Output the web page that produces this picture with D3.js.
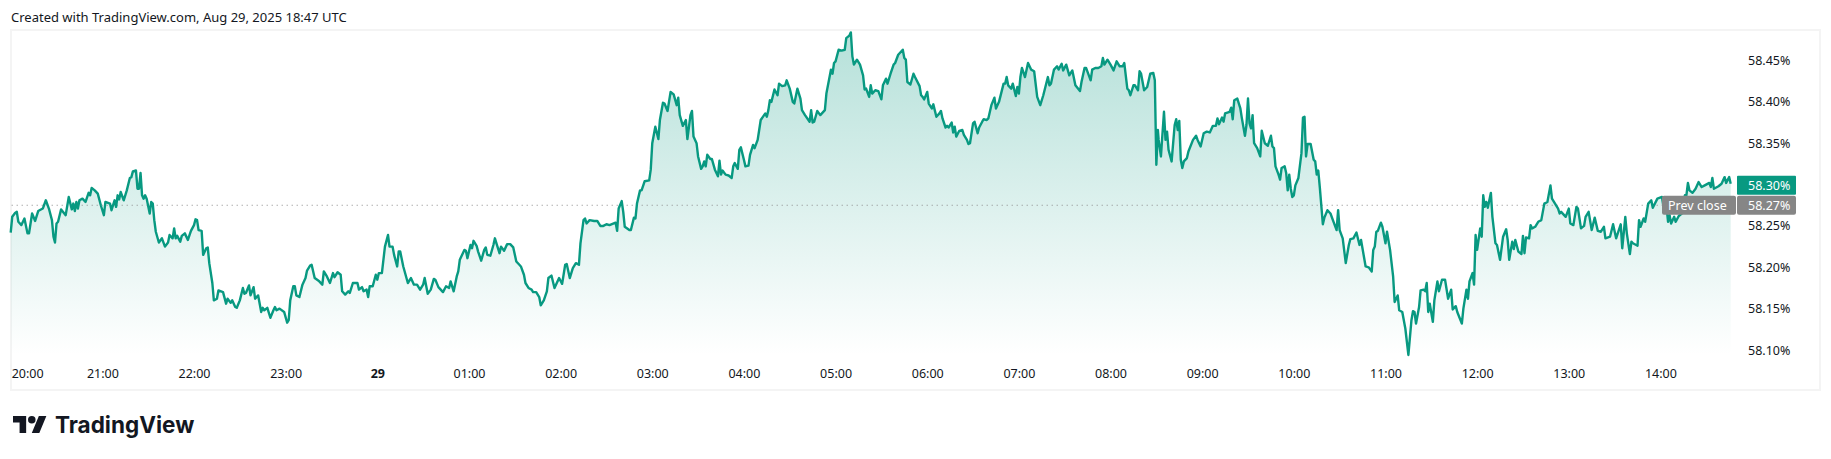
<!DOCTYPE html>
<html>
<head>
<meta charset="utf-8">
<script src="https://cdn.jsdelivr.net/npm/d3@7"></script>
<style>
  html, body { margin: 0; padding: 0; background: #fff; }
  svg { display: block; }
  text { font-family: "Noto Sans", sans-serif; fill: #131722; }
</style>
</head>
<body>
<svg id="chart" width="1831" height="459"></svg>
<script>
// minutes since 20:00 on Aug 28
const minutes = [
  0, 1, 3, 4, 5, 7, 9, 11, 12, 14,
  16, 18, 21, 23, 25, 27, 28, 29, 30, 31,
  33, 36, 38, 40, 41, 42, 43, 44, 45, 47,
  49, 51, 52, 53, 55, 57, 59, 61, 62, 65,
  66, 68, 69, 70, 71, 72, 74, 76, 78, 79,
  80, 82, 83, 84, 85, 86, 87, 88, 89, 91,
  92, 93, 94, 95, 97, 99, 101, 103, 104, 106,
  107, 108, 109, 111, 112, 114, 116, 118, 120, 121,
  122, 123, 125, 126, 128, 129, 130, 132, 133, 135,
  136, 139, 141, 142, 144, 145, 147, 148, 150, 152,
  153, 154, 156, 157, 159, 160, 162, 164, 165, 166,
  168, 170, 172, 173, 174, 176, 179, 181, 182, 183,
  185, 186, 187, 189, 191, 193, 194, 196, 197, 199,
  202, 204, 205, 207, 209, 211, 212, 214, 216, 217,
  219, 221, 222, 224, 227, 228, 230, 231, 233, 234,
  235, 237, 239, 240, 241, 243, 245, 247, 248, 250,
  251, 253, 254, 255, 257, 260, 262, 264, 266, 268,
  270, 271, 273, 275, 277, 278, 280, 283, 285, 287,
  288, 290, 292, 293, 294, 295, 297, 298, 299, 301,
  302, 303, 305, 306, 308, 310, 311, 312, 314, 316,
  317, 318, 320, 321, 323, 325, 327, 329, 331, 333,
  334, 336, 337, 339, 341, 342, 344, 346, 347, 349,
  351, 352, 354, 356, 359, 361, 363, 364, 366, 368,
  370, 372, 373, 375, 376, 377, 379, 382, 384, 386,
  388, 390, 392, 396, 397, 398, 400, 401, 402, 405,
  406, 408, 409, 410, 412, 413, 415, 418, 419, 420,
  422, 424, 425, 427, 428, 430, 432, 434, 436, 437,
  438, 440, 442, 443, 445, 446, 447, 449, 450, 452,
  453, 454, 455, 456, 458, 459, 461, 462, 463, 464,
  465, 466, 468, 470, 472, 473, 474, 476, 477, 478,
  480, 481, 483, 484, 486, 487, 489, 490, 491, 494,
  495, 496, 497, 498, 500, 502, 503, 505, 507, 508,
  510, 512, 513, 515, 517, 518, 520, 523, 524, 525,
  526, 528, 530, 533, 534, 537, 538, 539, 540, 542,
  544, 546, 547, 549, 550, 551, 552, 554, 556, 558,
  559, 560, 562, 563, 564, 566, 568, 570, 571, 573,
  574, 576, 578, 579, 581, 584, 585, 586, 587, 589,
  591, 592, 595, 596, 597, 598, 600, 601, 603, 604,
  606, 608, 609, 610, 612, 613, 614, 616, 617, 618,
  619, 621, 623, 624, 626, 627, 628, 630, 631, 633,
  634, 636, 637, 639, 640, 642, 644, 645, 647, 650,
  651, 652, 653, 655, 656, 658, 659, 660, 661, 662,
  664, 666, 668, 670, 672, 674, 676, 679, 680, 681,
  683, 685, 686, 688, 689, 691, 693, 695, 697, 700,
  701, 703, 704, 707, 708, 710, 712, 714, 715, 716,
  718, 720, 722, 724, 726, 728, 729, 731, 732, 733,
  735, 736, 738, 739, 740, 742, 744, 746, 748, 749,
  750, 751, 751.5, 753, 755, 756, 757, 758, 760, 762,
  763, 764, 765, 766, 767, 768, 770, 771, 774, 776,
  777, 779, 781, 783, 785, 787, 789, 790, 791, 793,
  794, 795, 798, 799, 800, 801, 803, 805, 806, 808,
  809, 810, 811, 812, 813, 814, 816, 818, 819, 821,
  823, 825, 826, 827, 828, 830, 831, 832, 834, 835,
  836, 837, 838, 839, 840, 841, 843, 845, 846, 847,
  848, 849, 851, 853, 854, 855, 856, 857, 859, 860,
  862, 864, 866, 868, 869, 870, 872, 874, 876, 877,
  879, 881, 883, 884, 887, 889, 891, 892, 893, 894,
  895, 897, 898, 900, 901, 903, 905, 906, 908, 909,
  911, 913, 915, 917, 918, 919, 920, 922, 923, 925,
  926, 927, 928, 929, 931, 932, 934, 935, 937, 939,
  941, 943, 944, 946, 947, 950, 951, 953, 954, 955,
  957, 958, 959, 960, 962, 963, 964, 965, 966, 967,
  969, 970, 972, 973, 975, 977, 979, 980, 981, 983,
  984, 985, 987, 989, 990, 991, 992, 994, 995, 996,
  998, 1000, 1002, 1004, 1006, 1008, 1009, 1011, 1013, 1014,
  1015, 1018, 1020, 1021, 1023, 1025, 1026, 1028, 1030, 1031,
  1033, 1035, 1037, 1039, 1041, 1043, 1044, 1047, 1049, 1051,
  1054, 1055, 1057, 1058, 1060, 1061, 1062, 1065, 1066, 1067,
  1069, 1070, 1072, 1074, 1075, 1078, 1081, 1082, 1084, 1085,
  1086, 1087, 1089, 1090, 1092, 1094, 1096, 1097, 1098, 1099,
  1101, 1103, 1105, 1107, 1109,
  1112, 1113, 1114, 1115, 1118, 1120, 1122, 1123, 1125, 1126,
];

// yield in percent at each of those minutes
const yields = [
  58.242, 58.261, 58.266, 58.267, 58.255, 58.251, 58.259, 58.241, 58.241, 58.265,
  58.256, 58.268, 58.271, 58.281, 58.271, 58.257, 58.237, 58.230, 58.253, 58.255,
  58.270, 58.263, 58.285, 58.270, 58.277, 58.268, 58.279, 58.271, 58.281, 58.283,
  58.279, 58.290, 58.287, 58.296, 58.293, 58.289, 58.275, 58.263, 58.279, 58.277,
  58.269, 58.281, 58.273, 58.287, 58.282, 58.291, 58.281, 58.293, 58.308, 58.309,
  58.316, 58.317, 58.295, 58.295, 58.314, 58.287, 58.283, 58.287, 58.283, 58.265,
  58.279, 58.277, 58.257, 58.243, 58.230, 58.235, 58.225, 58.230, 58.239, 58.235,
  58.247, 58.235, 58.238, 58.231, 58.238, 58.241, 58.233, 58.244, 58.251, 58.258,
  58.257, 58.245, 58.244, 58.215, 58.223, 58.224, 58.205, 58.181, 58.160, 58.162,
  58.172, 58.170, 58.156, 58.162, 58.157, 58.160, 58.152, 58.151, 58.160, 58.175,
  58.168, 58.169, 58.178, 58.166, 58.176, 58.162, 58.166, 58.146, 58.151, 58.148,
  58.151, 58.139, 58.148, 58.152, 58.148, 58.150, 58.146, 58.133, 58.136, 58.160,
  58.177, 58.177, 58.166, 58.164, 58.179, 58.187, 58.196, 58.202, 58.203, 58.187,
  58.183, 58.179, 58.195, 58.189, 58.181, 58.193, 58.188, 58.194, 58.191, 58.171,
  58.167, 58.171, 58.169, 58.181, 58.181, 58.173, 58.176, 58.171, 58.173, 58.164,
  58.177, 58.177, 58.191, 58.185, 58.193, 58.193, 58.225, 58.239, 58.225, 58.225,
  58.215, 58.201, 58.219, 58.219, 58.201, 58.181, 58.187, 58.179, 58.179, 58.173,
  58.179, 58.187, 58.168, 58.173, 58.186, 58.185, 58.176, 58.170, 58.177, 58.175,
  58.183, 58.171, 58.189, 58.195, 58.209, 58.213, 58.221, 58.220, 58.211, 58.227,
  58.223, 58.232, 58.226, 58.219, 58.208, 58.221, 58.224, 58.215, 58.214, 58.227,
  58.235, 58.229, 58.217, 58.225, 58.220, 58.228, 58.228, 58.224, 58.207, 58.203,
  58.201, 58.191, 58.181, 58.175, 58.173, 58.170, 58.170, 58.164, 58.154, 58.160,
  58.171, 58.187, 58.190, 58.175, 58.187, 58.180, 58.203, 58.204, 58.187, 58.199,
  58.205, 58.203, 58.229, 58.257, 58.259, 58.253, 58.257, 58.256, 58.256, 58.250,
  58.250, 58.252, 58.251, 58.254, 58.244, 58.271, 58.280, 58.267, 58.249, 58.245,
  58.245, 58.260, 58.259, 58.277, 58.293, 58.293, 58.304, 58.305, 58.318, 58.350,
  58.370, 58.355, 58.378, 58.399, 58.398, 58.389, 58.412, 58.409, 58.396, 58.405,
  58.384, 58.371, 58.378, 58.355, 58.384, 58.389, 58.358, 58.350, 58.334, 58.319,
  58.322, 58.328, 58.322, 58.336, 58.331, 58.331, 58.318, 58.314, 58.310, 58.329,
  58.312, 58.317, 58.312, 58.311, 58.308, 58.322, 58.326, 58.319, 58.342, 58.345,
  58.330, 58.322, 58.323, 58.336, 58.348, 58.344, 58.354, 58.366, 58.378, 58.386,
  58.382, 58.390, 58.402, 58.400, 58.415, 58.408, 58.422, 58.419, 58.420, 58.426,
  58.416, 58.400, 58.398, 58.416, 58.404, 58.390, 58.384, 58.376, 58.390, 58.375,
  58.376, 58.389, 58.384, 58.390, 58.410, 58.439, 58.434, 58.447, 58.449, 58.463,
  58.462, 58.463, 58.477, 58.480, 58.484, 58.455, 58.445, 58.451, 58.445, 58.432,
  58.415, 58.416, 58.406, 58.420, 58.410, 58.414, 58.413, 58.403, 58.420, 58.428,
  58.422, 58.434, 58.445, 58.447, 58.457, 58.463, 58.453, 58.451, 58.424, 58.421,
  58.434, 58.430, 58.419, 58.408, 58.406, 58.403, 58.412, 58.398, 58.392, 58.397,
  58.382, 58.386, 58.389, 58.380, 58.369, 58.371, 58.369, 58.375, 58.363, 58.370,
  58.358, 58.365, 58.366, 58.360, 58.354, 58.349, 58.350, 58.374, 58.376, 58.362,
  58.369, 58.376, 58.379, 58.378, 58.380, 58.396, 58.405, 58.392, 58.400, 58.422,
  58.422, 58.430, 58.420, 58.416, 58.422, 58.407, 58.418, 58.410, 58.430, 58.441,
  58.430, 58.447, 58.439, 58.437, 58.406, 58.396, 58.408, 58.430, 58.420, 58.422,
  58.439, 58.443, 58.439, 58.446, 58.438, 58.445, 58.432, 58.438, 58.420, 58.413,
  58.424, 58.441, 58.441, 58.426, 58.439, 58.441, 58.441, 58.443, 58.453, 58.445,
  58.451, 58.445, 58.438, 58.449, 58.443, 58.443, 58.447, 58.416, 58.414, 58.408,
  58.420, 58.420, 58.414, 58.437, 58.434, 58.414, 58.418, 58.434, 58.435, 58.426,
  58.324, 58.366, 58.354, 58.334, 58.388, 58.354, 58.364, 58.342, 58.328, 58.372,
  58.379, 58.366, 58.377, 58.330, 58.320, 58.328, 58.332, 58.340, 58.354, 58.359,
  58.354, 58.346, 58.362, 58.364, 58.363, 58.371, 58.371, 58.380, 58.373, 58.381,
  58.376, 58.386, 58.388, 58.393, 58.379, 58.402, 58.404, 58.392, 58.380, 58.359,
  58.372, 58.404, 58.374, 58.368, 58.384, 58.350, 58.344, 58.334, 58.365, 58.350,
  58.347, 58.359, 58.346, 58.344, 58.322, 58.312, 58.306, 58.320, 58.322, 58.314,
  58.293, 58.312, 58.295, 58.285, 58.287, 58.299, 58.308, 58.338, 58.381, 58.382,
  58.334, 58.349, 58.349, 58.330, 58.328, 58.312, 58.317, 58.297, 58.252, 58.260,
  58.269, 58.265, 58.255, 58.245, 58.269, 58.245, 58.235, 58.205, 58.227, 58.234,
  58.235, 58.242, 58.227, 58.233, 58.201, 58.200, 58.195, 58.221, 58.225, 58.243,
  58.244, 58.254, 58.249, 58.229, 58.243, 58.221, 58.189, 58.158, 58.166, 58.148,
  58.146, 58.126, 58.094, 58.136, 58.147, 58.146, 58.132, 58.152, 58.172, 58.173,
  58.171, 58.181, 58.146, 58.156, 58.134, 58.160, 58.183, 58.171, 58.185, 58.185,
  58.162, 58.173, 58.149, 58.153, 58.146, 58.132, 58.150, 58.173, 58.162, 58.183,
  58.193, 58.179, 58.239, 58.221, 58.247, 58.237, 58.287, 58.273, 58.279, 58.272,
  58.290, 58.261, 58.229, 58.227, 58.209, 58.237, 58.246, 58.233, 58.209, 58.231,
  58.222, 58.233, 58.219, 58.216, 58.238, 58.217, 58.236, 58.235, 58.251, 58.247,
  58.249, 58.255, 58.257, 58.277, 58.279, 58.299, 58.283, 58.277, 58.271, 58.265,
  58.267, 58.261, 58.271, 58.253, 58.251, 58.273, 58.271, 58.247, 58.250, 58.261,
  58.267, 58.245, 58.260, 58.244, 58.243, 58.249, 58.235, 58.237, 58.252, 58.235,
  58.252, 58.223, 58.261, 58.241, 58.216, 58.231, 58.229, 58.226, 58.257, 58.249,
  58.259, 58.255, 58.277, 58.281, 58.272, 58.283, 58.285, 58.273, 58.273, 58.255,
  58.263, 58.253, 58.261, 58.255, 58.262, 58.265, 58.287, 58.287, 58.302, 58.293,
  58.290, 58.295, 58.303, 58.297, 58.299,
  58.302, 58.297, 58.308, 58.295, 58.298, 58.301, 58.309, 58.302, 58.309, 58.301,
];

const hourTicks = [0, 60, 120, 180, 240, 300, 360, 420, 480, 540, 600, 660, 720, 780, 840, 900, 960, 1020, 1080];
const hourLabels = ['20:00', '21:00', '22:00', '23:00', '29', '01:00', '02:00', '03:00', '04:00', '05:00',
  '06:00', '07:00', '08:00', '09:00', '10:00', '11:00', '12:00', '13:00', '14:00'];
const yieldTicks = [58.10, 58.15, 58.20, 58.25, 58.35, 58.40, 58.45];
const prevClose = 58.275;
const prevCloseText = '58.27%';
const createdText = 'Created with TradingView.com, Aug 29, 2025 18:47 UTC';

const points = d3.zip(minutes, yields);
const lastValue = yields[yields.length - 1];
const GREEN = '#089981';
const GREY = '#868686';
const LABEL_FONT = '12.5px';

const svg = d3.select('#chart');

const x = d3.scaleLinear().domain([0, 1126]).range([10.7, 1730.7]);
const y = d3.scaleLinear().domain([58.10, 58.45]).range([350, 60.5]);

svg.append('text')
  .attr('x', 11)
  .attr('y', 22)
  .style('font-size', '13px')
  .text(createdText);

// frame round the chart
svg.append('rect')
  .attr('x', 11)
  .attr('y', 30)
  .attr('width', 1809)
  .attr('height', 360)
  .attr('fill', 'none')
  .attr('stroke', '#f4f4f4')
  .attr('stroke-width', 2);

const grad = svg.append('defs').append('linearGradient')
  .attr('id', 'fade')
  .attr('gradientUnits', 'userSpaceOnUse')
  .attr('x1', 0)
  .attr('x2', 0)
  .attr('y1', 30)
  .attr('y2', 355);
grad.append('stop').attr('offset', 0).attr('stop-color', GREEN).attr('stop-opacity', 0.3);
grad.append('stop').attr('offset', 1).attr('stop-color', GREEN).attr('stop-opacity', 0);

const area = d3.area()
  .x(d => x(d[0]))
  .y0(355)
  .y1(d => y(d[1]));

const line = d3.line()
  .x(d => x(d[0]))
  .y(d => y(d[1]));

svg.append('path')
  .datum(points)
  .attr('d', area)
  .attr('fill', 'url(#fade)');

// previous close, dotted across the pane
svg.append('line')
  .attr('x1', x(0) + 1)
  .attr('x2', 1663)
  .attr('y1', y(prevClose))
  .attr('y2', y(prevClose))
  .attr('stroke', '#8a8a8a')
  .attr('stroke-dasharray', '1 4');

svg.append('path')
  .datum(points)
  .attr('d', line)
  .attr('fill', 'none')
  .attr('stroke', GREEN)
  .attr('stroke-width', 2.4)
  .attr('stroke-linejoin', 'round');

// time axis
const xAxis = svg.append('g')
  .attr('transform', 'translate(0,366)')
  .call(d3.axisBottom(x).tickValues(hourTicks).tickSize(0).tickPadding(3)
    .tickFormat((d, i) => hourLabels[i]));
xAxis.select('.domain').remove();
xAxis.selectAll('text')
  .style('font-family', '"Noto Sans", sans-serif')
  .style('font-size', LABEL_FONT)
  .attr('fill', '#131722')
  .style('font-weight', (d, i) => (hourLabels[i] === '29' ? 'bold' : 'normal'));
// the first label is pushed right so it stays inside the frame
xAxis.select('.tick text').attr('text-anchor', 'start').attr('x', 0.5);

// price axis
const yAxis = svg.append('g')
  .attr('transform', 'translate(1748,0)')
  .call(d3.axisRight(y).tickValues(yieldTicks).tickSize(0).tickPadding(0)
    .tickFormat(d => `${d3.format('.2f')(d)}%`));
yAxis.select('.domain').remove();
yAxis.selectAll('text')
  .style('font-family', '"Noto Sans", sans-serif')
  .style('font-size', LABEL_FONT)
  .attr('fill', '#131722');

// last value badge
svg.append('rect')
  .attr('x', 1737)
  .attr('y', y(lastValue) - 8)
  .attr('width', 59)
  .attr('height', 19)
  .attr('rx', 1)
  .attr('fill', GREEN);
svg.append('text')
  .attr('x', 1748)
  .attr('y', y(lastValue) + 6)
  .style('font-size', LABEL_FONT)
  .style('fill', '#fff')
  .text(`${d3.format('.2f')(lastValue)}%`);

// prev close badges
svg.append('rect')
  .attr('x', 1662)
  .attr('y', y(prevClose) - 9.5)
  .attr('width', 74)
  .attr('height', 19)
  .attr('rx', 2)
  .attr('fill', GREY);
svg.append('rect')
  .attr('x', 1737)
  .attr('y', y(prevClose) - 9.5)
  .attr('width', 59)
  .attr('height', 19)
  .attr('rx', 2)
  .attr('fill', GREY);
svg.append('text')
  .attr('x', 1668)
  .attr('y', y(prevClose) + 4.5)
  .style('font-size', LABEL_FONT)
  .style('fill', '#fff')
  .text('Prev close');
svg.append('text')
  .attr('x', 1748)
  .attr('y', y(prevClose) + 4.5)
  .style('font-size', LABEL_FONT)
  .style('fill', '#fff')
  .text(prevCloseText);

// TradingView logo and wordmark
const logo = svg.append('g')
  .attr('transform', 'translate(13,412.2) scale(0.94)')
  .attr('fill', '#131722');
logo.append('path').attr('d', 'M14 22H7V11H0V4h14v18zM28 22h-8l7.5-18h8L28 22z');
logo.append('circle').attr('cx', 20).attr('cy', 8).attr('r', 4);

svg.append('text')
  .attr('x', 55)
  .attr('y', 433)
  .style('font-family', 'Inter, sans-serif')
  .style('font-size', '22.5px')
  .style('font-weight', 700)
  .text('TradingView');
</script>
</body>
</html>
